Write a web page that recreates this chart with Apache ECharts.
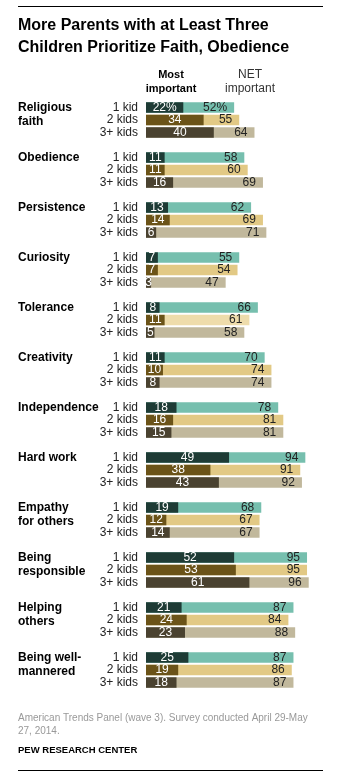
<!DOCTYPE html>
<html>
<head>
<meta charset="utf-8">
<script src="https://cdn.jsdelivr.net/npm/echarts@6/dist/echarts.min.js"></script>
<style>
html,body{margin:0;padding:0;background:#fff;}
#chart{width:356px;height:777px;}
</style>
</head>
<body>
<div id="chart"></div>
<script>
// ---- data ----
var groups = ['Religious\nfaith','Obedience','Persistence','Curiosity','Tolerance','Creativity','Independence','Hard work','Empathy\nfor others','Being\nresponsible','Helping\nothers','Being well-\nmannered'];
var kids = ['1 kid','2 kids','3+ kids'];
var most1 = [22,11,13,7,8,11,18,49,19,52,21,25];
var most2 = [34,11,14,7,11,10,16,38,12,53,24,19];
var most3 = [40,16,6,3,5,8,15,43,14,61,23,18];
var net1 = [52,58,62,55,66,70,78,94,68,95,87,87];
var net2 = [55,60,69,54,61,74,81,91,67,95,84,86];
var net3 = [64,69,71,47,58,74,81,92,67,96,88,87];

// ---- styles ----
var FONT = '"Liberation Sans", Arial, sans-serif';
var mostColors = ['#1e3b35','#6b5318','#4a4230'];
var netColors = ['#76bfae','#e2c985','#c1b89c'];
var netColorOverride = {'Tolerance|2 kids':'#eedcab'};

var mostArr = [most1, most2, most3];
var netArr = [net1, net2, net3];

var cats = [], mostData = [], netData = [], firstRowIdx = [];
groups.forEach(function(g, gi){
  firstRowIdx.push(cats.length);
  kids.forEach(function(k, ki){
    var key = g.replace(/\n/g,' ') + '|' + k;
    cats.push(key);
    mostData.push({value: mostArr[ki][gi], itemStyle:{color: mostColors[ki]}});
    netData.push({value: netArr[ki][gi], itemStyle:{color: netColorOverride[key] || netColors[ki]}});
  });
  if (gi < groups.length - 1) {
    cats.push('gap' + gi);
    mostData.push('-');
    netData.push('-');
  }
});

var chart = echarts.init(document.getElementById('chart'), null, {renderer:'canvas'});
var gridTop = 101.3, band = 12.5;
chart.setOption({
  animation:false,
  textStyle:{fontFamily:FONT},
  grid:{left:146, top:gridTop, width:169.5, height: band*cats.length, containLabel:false},
  xAxis:{type:'value', min:0, max:100, show:false},
  yAxis:{type:'category', inverse:true, data:cats,
    axisLine:{show:false}, axisTick:{show:false}, splitLine:{show:false},
    axisLabel:{interval:0, margin:8, fontSize:12, color:'#222', fontFamily:FONT,
      formatter:function(v){ var p=v.split('|'); return p.length>1?p[1]:''; }}
  },
  series:[
    {name:'NET important', type:'bar', data:netData, barWidth:10.5, barGap:'-100%',
      label:{show:true, position:'insideRight', distance:7, color:'#222', fontSize:12, fontFamily:FONT,
        formatter:function(p){ return p.dataIndex===0 ? p.value+'%' : p.value; }}},
    {name:'Most important', type:'bar', data:mostData, barWidth:10.5, barGap:'-100%', z:3,
      label:{show:true, position:'inside', color:'#fff', fontSize:12, fontFamily:FONT,
        formatter:function(p){ return p.dataIndex===0 ? p.value+'%' : p.value; }}}
  ]
});

var graphics = [
  {type:'line', shape:{x1:18,y1:6.5,x2:323,y2:6.5}, style:{stroke:'#000', lineWidth:1}},
  {type:'line', shape:{x1:18,y1:770.5,x2:323,y2:770.5}, style:{stroke:'#000', lineWidth:1}},
  {type:'text', x:18, y:15, style:{text:'More Parents with at Least Three\nChildren Prioritize Faith, Obedience', font:'bold 16px '+FONT, fill:'#000', lineHeight:21.5, textVerticalAlign:'top'}},
  {type:'text', x:171, y:68, style:{text:'Most\nimportant', font:'bold 11px '+FONT, fill:'#000', lineHeight:14, textAlign:'center', textVerticalAlign:'top'}},
  {type:'text', x:250, y:68, style:{text:'NET\nimportant', font:'12px '+FONT, fill:'#333', lineHeight:14, textAlign:'center', textVerticalAlign:'top'}},
  {type:'text', x:18, y:711, style:{text:'American Trends Panel (wave 3). Survey conducted April 29-May\n27, 2014.', font:'10px '+FONT, fill:'#999', lineHeight:13.5, textVerticalAlign:'top'}},
  {type:'text', x:18, y:745.5, style:{text:'PEW RESEARCH CENTER', font:'bold 9.5px '+FONT, fill:'#000', textVerticalAlign:'top'}}
];
groups.forEach(function(g, gi){
  var cy = chart.convertToPixel({yAxisIndex:0}, cats[firstRowIdx[gi]]);
  graphics.push({type:'text', x:18, y:cy-6.5, style:{text:g, font:'bold 12px '+FONT, fill:'#000', lineHeight:14, textVerticalAlign:'top'}});
});
chart.setOption({graphic:graphics});
</script>
</body>
</html>
